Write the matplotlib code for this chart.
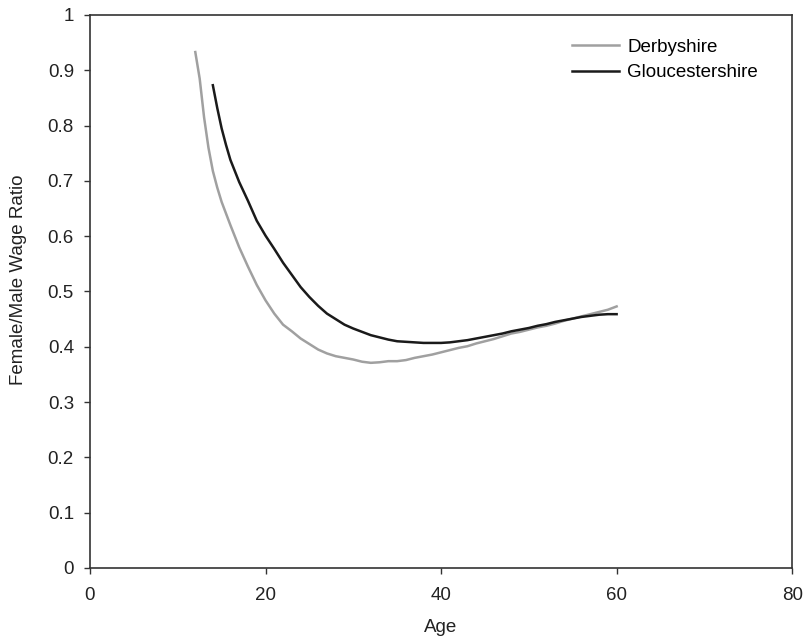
import matplotlib
matplotlib.use("Agg")
from matplotlib import pyplot as plt

plt.rcParams["font.family"] = ["Liberation Sans", "DejaVu Sans"]

# Derbyshire female/male wage ratio by age
derby_age = [12, 12.5, 13, 13.5, 14, 14.5, 15, 16, 17, 18, 19, 20, 21, 22, 23, 24, 25,
             26, 27, 28, 29, 30, 31, 32, 33, 34, 35, 36, 37, 38, 39, 40, 41, 42,
             43, 44, 45, 46, 47, 48, 49, 50, 51, 52, 53, 54, 55, 56, 57, 58, 59, 60]
derby_ratio = [0.933, 0.885, 0.815, 0.76, 0.718, 0.688, 0.662, 0.62, 0.58, 0.545,
               0.512, 0.484, 0.46, 0.44, 0.428, 0.415, 0.405, 0.395, 0.388, 0.383,
               0.38, 0.377, 0.373, 0.371, 0.372, 0.374, 0.374, 0.376, 0.38, 0.383,
               0.386, 0.39, 0.394, 0.398, 0.401, 0.406, 0.41, 0.414, 0.419, 0.424,
               0.427, 0.431, 0.435, 0.438, 0.442, 0.447, 0.451, 0.455, 0.459, 0.463,
               0.467, 0.473]

# Gloucestershire
glos_age = [14, 14.5, 15, 15.5, 16, 17, 18, 19, 20, 21, 22, 23, 24, 25, 26, 27, 28,
            29, 30, 31, 32, 33, 34, 35, 36, 37, 38, 39, 40, 41, 42, 43, 44, 45, 46,
            47, 48, 49, 50, 51, 52, 53, 54, 55, 56, 57, 58, 59, 60]
glos_ratio = [0.873, 0.832, 0.795, 0.765, 0.738, 0.698, 0.664, 0.628, 0.601, 0.577,
              0.552, 0.53, 0.508, 0.49, 0.474, 0.46, 0.45, 0.44, 0.433, 0.427, 0.421,
              0.417, 0.413, 0.41, 0.409, 0.408, 0.407, 0.407, 0.407, 0.408, 0.41,
              0.412, 0.415, 0.418, 0.421, 0.424, 0.428, 0.431, 0.434, 0.438, 0.441,
              0.445, 0.448, 0.451, 0.454, 0.456, 0.458, 0.459, 0.459]

fig = plt.figure(figsize=(8.09, 6.41), dpi=100)
ax = fig.add_axes([0.1112, 0.1139, 0.868, 0.8627])

ax.plot(derby_age, derby_ratio, color="#a0a0a0", lw=1.8, label="Derbyshire")
ax.plot(glos_age, glos_ratio, color="#1a1a1a", lw=1.8, label="Gloucestershire")

ax.set_xlim(0, 80)
ax.set_ylim(0, 1)
ax.set_xticks([0, 20, 40, 60, 80])
ax.set_yticks([0, 0.1, 0.2, 0.3, 0.4, 0.5, 0.6, 0.7, 0.8, 0.9, 1])
ax.set_yticklabels(["0", "0.1", "0.2", "0.3", "0.4", "0.5", "0.6", "0.7", "0.8", "0.9", "1"])
ax.tick_params(direction="out", length=4.5, width=1, labelsize=13.5, color="#333333",
               labelcolor="#222222")
ax.tick_params(axis="x", pad=9)
ax.tick_params(axis="y", pad=7)
for s in ax.spines.values():
    s.set_color("#333333")
    s.set_linewidth(1.2)

ax.set_xlabel("Age", fontsize=13.5, labelpad=11, color="#222222")
ax.set_ylabel("Female/Male Wage Ratio", fontsize=13.5, labelpad=15, color="#222222")
ax.yaxis.label.set_y(0.522)
ax.legend(loc="upper left", frameon=False, fontsize=13.5, handlelength=2.5,
          handletextpad=0.45, labelspacing=0.45, borderpad=0, borderaxespad=0,
          bbox_to_anchor=(0.6866, 0.957))

fig.savefig("out.png", dpi=100)
